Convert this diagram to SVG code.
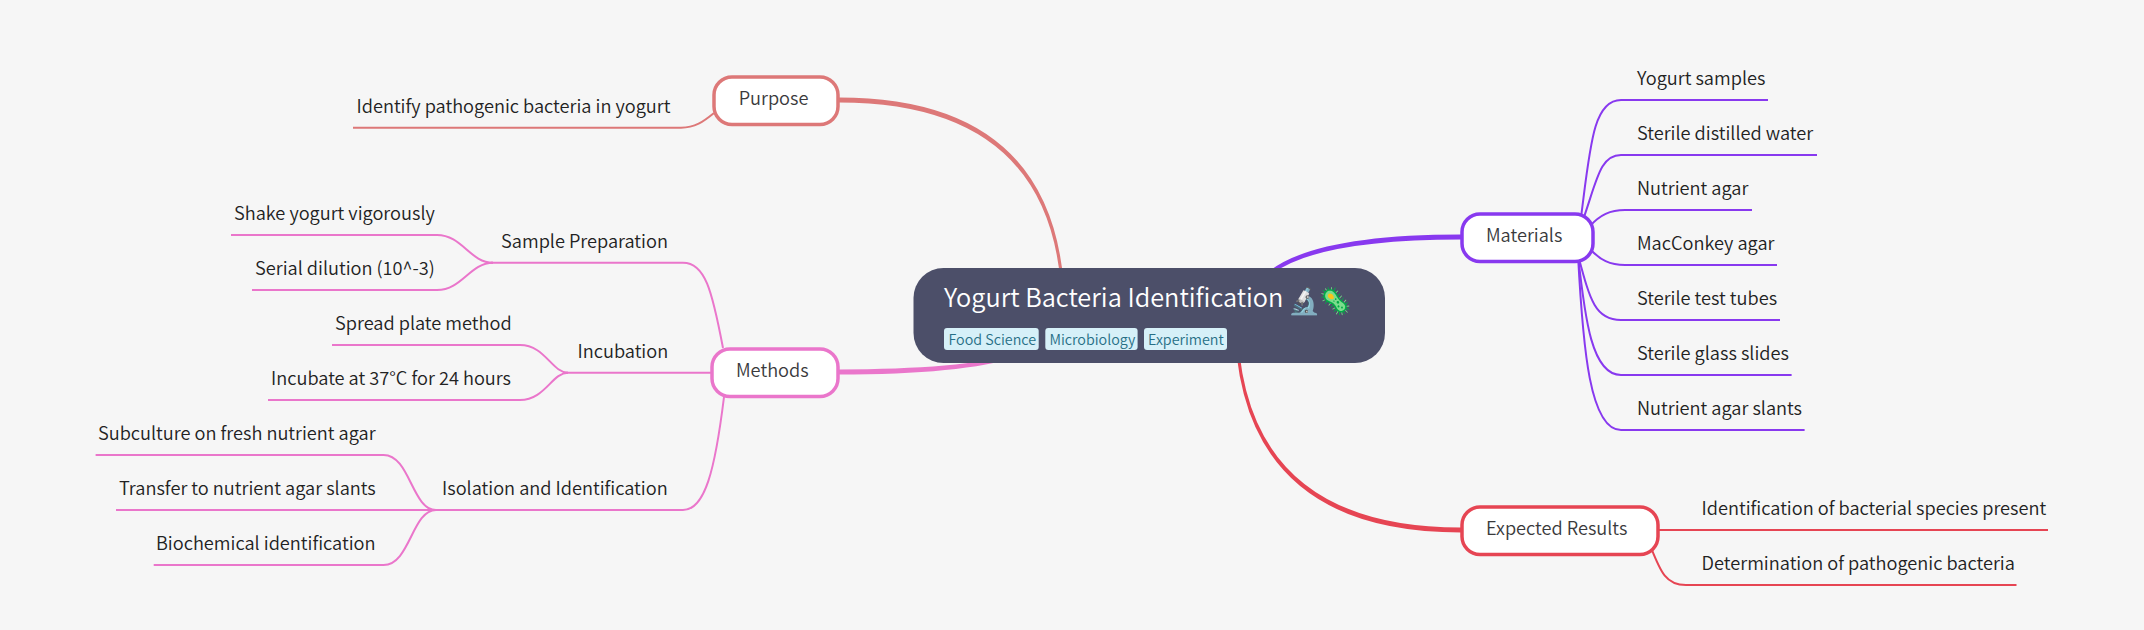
<svg xmlns="http://www.w3.org/2000/svg" width="2144" height="630" viewBox="0 0 2144 630">
<style>
text{font-family:"Noto Sans CJK SC","Noto Sans",sans-serif;font-weight:350}
.t{font-size:18.200px;fill:#222}
.m{font-size:18.200px;fill:#3a3a3c}
.b{fill:#fff;stroke-width:3.500}
.l{fill:none;stroke-width:2}
.tag{fill:#d6f0f8}
.tt{font-size:14.300px;fill:#276f86}
.pu{stroke:#dd7878}.pi{stroke:#ea76cb}.ma{stroke:#8839ef}.re{stroke:#e64553}
</style>
<rect width="2144" height="630" fill="#f6f6f6"/>
<g id="connectors">
<path fill="#dd7878" d="M1065 315Q1065 97.500 839 97.500V102.500Q1062 102.500 1062 315Z"/>
<path fill="#ea76cb" d="M1064.500 315Q1064.500 374.500 838 374.500V369.500Q1067.500 369.500 1067.500 315Z"/>
<path fill="#8839ef" d="M1246.500 315Q1246.500 234.500 1461 234.500V239.500Q1249.500 239.500 1249.500 315Z"/>
<path fill="#e64553" d="M1234.500 315Q1234.500 532.500 1461 532.500V527.500Q1237.500 527.500 1237.500 315Z"/>
<g class="l pu"><path d="M714 113C703 122 695 127.700 681 127.700H353"/></g>
<g class="l pi">
<path d="M493 262.700C470 262.700 462 235 437 235H231"/>
<path d="M493 262.700C470 262.700 462 290 437 290H252"/>
<path d="M491 262.700H683C705 262.700 712 290 723 348"/>
<path d="M568 372.700C552 372.700 545 345 520 345H332"/>
<path d="M568 372.700C552 372.700 545 400 520 400H268"/>
<path d="M566 372.700H711"/>
<path d="M436 510C412 510 410 455 383.600 455H95.600"/>
<path d="M436 510H116"/>
<path d="M436 510C412 510 410 565 383.600 565H153.700"/>
<path d="M432 510H683C705 510 715 470 724 397"/>
</g>
<g class="l ma">
<path d="M1580 225C1590 150 1592 100 1621 100H1768"/>
<path d="M1583 220C1597 180 1600 155 1621 155H1817"/>
<path d="M1590 226C1600 215 1610 210 1625 210H1752"/>
<path d="M1590 249C1600 260 1610 265 1625 265H1777"/>
<path d="M1578 255C1590 300 1595 320 1621 320H1780"/>
<path d="M1578 255C1585 320 1592 375 1621 375H1791.600"/>
<path d="M1578 255C1583 350 1590 430 1621 430H1804.600"/>
</g>
<g class="l re">
<path d="M1655 530H2048"/>
<path d="M1650 545C1660 570 1665 585 1686 585H2016.500"/>
</g>
</g>
<g id="root">
<rect x="913.500" y="268" width="471.500" height="95" rx="30" fill="#4c4f69"/>
<text x="944" y="307" font-size="25.300" fill="#fff">Yogurt Bacteria Identification</text>
<text x="1287.500" y="310" font-size="26">🔬</text>
<text x="1318.500" y="310" font-size="26">🦠</text>
<rect class="tag" x="944" y="328" width="94.700" height="22" rx="3"/>
<text class="tt" x="948.500" y="345">Food Science</text>
<rect class="tag" x="1045.300" y="328" width="92.300" height="22" rx="3"/>
<text class="tt" x="1049.500" y="345">Microbiology</text>
<rect class="tag" x="1144" y="328" width="83" height="22" rx="3"/>
<text class="tt" x="1148" y="345">Experiment</text>
</g>
<g id="purpose"><rect class="b pu" x="714" y="77" width="124" height="47.500" rx="18"/><text class="m" x="738.700" y="105">Purpose</text></g>
<g id="methods"><rect class="b pi" x="712" y="349" width="126" height="47.500" rx="18"/><text class="m" x="736" y="377">Methods</text></g>
<g id="materials"><rect class="b ma" x="1462" y="214" width="131" height="47.500" rx="18"/><text class="m" x="1486" y="241.700">Materials</text></g>
<g id="expected"><rect class="b re" x="1462" y="507" width="196" height="47.500" rx="18"/><text class="m" x="1486" y="535">Expected Results</text></g>
<g id="leaf-identify"><text class="t" x="356.500" y="113">Identify pathogenic bacteria in yogurt</text></g>
<g id="sample-prep"><text class="t" x="501" y="248">Sample Preparation</text></g>
<g id="leaf-shake"><text class="t" x="234" y="220">Shake yogurt vigorously</text></g>
<g id="leaf-serial"><text class="t" x="255" y="275">Serial dilution (10^-3)</text></g>
<g id="incubation"><text class="t" x="577.500" y="358">Incubation</text></g>
<g id="leaf-spread"><text class="t" x="335" y="330">Spread plate method</text></g>
<g id="leaf-incubate"><text class="t" x="271" y="385">Incubate at 37°C for 24 hours</text></g>
<g id="isolation"><text class="t" x="442" y="495">Isolation and Identification</text></g>
<g id="leaf-subculture"><text class="t" x="98" y="440">Subculture on fresh nutrient agar</text></g>
<g id="leaf-transfer"><text class="t" x="119" y="495">Transfer to nutrient agar slants</text></g>
<g id="leaf-biochem"><text class="t" x="156" y="550">Biochemical identification</text></g>
<g id="leaf-yogurt"><text class="t" x="1637" y="85">Yogurt samples</text></g>
<g id="leaf-water"><text class="t" x="1637" y="140">Sterile distilled water</text></g>
<g id="leaf-nutrient"><text class="t" x="1637" y="195">Nutrient agar</text></g>
<g id="leaf-macconkey"><text class="t" x="1637" y="250">MacConkey agar</text></g>
<g id="leaf-tubes"><text class="t" x="1637" y="305">Sterile test tubes</text></g>
<g id="leaf-slides"><text class="t" x="1637" y="360">Sterile glass slides</text></g>
<g id="leaf-slants"><text class="t" x="1637" y="415">Nutrient agar slants</text></g>
<g id="leaf-species"><text class="t" x="1701.600" y="515">Identification of bacterial species present</text></g>
<g id="leaf-pathogenic"><text class="t" x="1701.600" y="570">Determination of pathogenic bacteria</text></g>
</svg>
